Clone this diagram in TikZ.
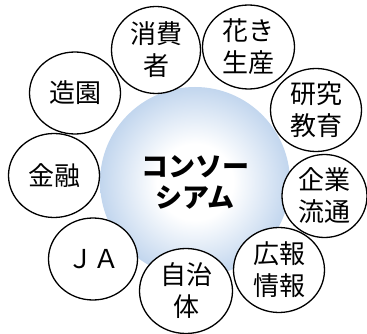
\documentclass[tikz,border=0pt]{standalone}
\usepackage{fontspec}
\newfontfamily\jpfont{Noto Sans CJK JP}
\usetikzlibrary{shapes.geometric}
\definecolor{hubblue}{RGB}{194,214,238}
\pgfdeclareradialshading{hubshade}{\pgfpoint{0bp}{0bp}}{color(0bp)=(white); color(10bp)=(white); color(25bp)=(hubblue); color(50bp)=(hubblue)}
\tikzset{
  member/.style={ellipse, draw=black, line width=1.3pt, fill=white, inner sep=0pt, align=center, font=\jpfont\fontsize{26}{32}\selectfont},
}
\begin{document}
\begin{tikzpicture}[x=1pt, y=-1pt, line join=round]
	\useasboundingbox (0,0) rectangle (367,334);
	\node[circle, minimum size=190pt, shade, shading=hubshade, align=center, font=\jpfont\bfseries\fontsize{27}{31}\selectfont] (hub) at (195,182) {コンソー\\シアム};
	\node[member, minimum width=91pt, minimum height=82pt] (zoen) at (75,93) {造園};
	\node[member, minimum width=91pt, minimum height=84pt] (kinyu) at (54,175.5) {金融};
	\node[member, minimum width=89pt, minimum height=82pt] (ja) at (93,259) {ＪＡ};
	\node[member, minimum width=93pt, minimum height=85pt] (jichi) at (186,291) {自治\\体};
	\node[member, minimum width=91pt, minimum height=85pt] (koho) at (279,270) {広報\\情報};
	\node[member, minimum width=85pt, minimum height=83pt] (kigyo) at (324.5,196) {企業\\流通};
	\node[member, minimum width=91pt, minimum height=83pt] (kenkyu) at (316,110) {研究\\教育};
	\node[member, minimum width=89pt, minimum height=87pt] (shohi) at (156,50) {消費\\者};
	\node[member, minimum width=92pt, minimum height=84pt] (hana) at (248.5,47) {花き\\生産};
\end{tikzpicture}
\end{document}
